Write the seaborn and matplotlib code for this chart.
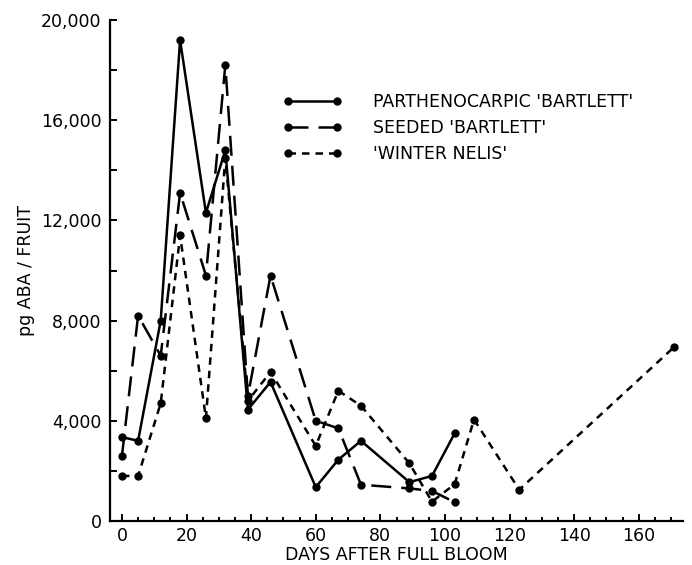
import matplotlib
matplotlib.use("Agg")
import matplotlib.pyplot as plt
from matplotlib.ticker import MultipleLocator, FuncFormatter
from matplotlib.lines import Line2D
import seaborn as sns
import pandas as pd

# ---- data ----
parth_days = [0, 5, 12, 18, 26, 32, 39, 46, 60, 67, 74, 89, 96, 103]
parth_aba = [3350, 3200, 8000, 19200, 12300, 14800, 4450, 5550, 1350, 2450, 3200, 1550, 1800, 3500]

seeded_days = [0, 5, 12, 18, 26, 32, 39, 46, 60, 67, 74, 89, 96, 103]
seeded_aba = [2600, 8200, 6600, 13100, 9800, 18200, 5000, 9800, 4000, 3700, 1450, 1300, 1200, 750]

winter_days = [0, 5, 12, 18, 26, 32, 39, 46, 60, 67, 74, 89, 96, 103, 109, 123, 171]
winter_aba = [1800, 1800, 4700, 11400, 4100, 14500, 4800, 5950, 3000, 5200, 4600, 2300, 770, 1470, 4050, 1250, 6950]

series_names = ["PARTHENOCARPIC 'BARTLETT'", "SEEDED 'BARTLETT'", "'WINTER NELIS'"]
x_label = "DAYS AFTER FULL BLOOM"
y_label = "pg ABA / FRUIT"

sns.set_style("ticks")
plt.rcParams["font.family"] = ["DejaVu Sans"]
plt.rcParams["text.color"] = "black"
plt.rcParams["axes.labelcolor"] = "black"
plt.rcParams["xtick.color"] = "black"
plt.rcParams["ytick.color"] = "black"
plt.rcParams["axes.edgecolor"] = "black"

fig = plt.figure(figsize=(6.92, 5.65), dpi=100)
ax = fig.add_axes([110 / 692, 44 / 565, (683 - 110) / 692, (521 - 20) / 565])

lw = 1.8
ms = 6
styles = ["-", (0, (8, 4)), (0, (3, 2.4))]
all_days = [parth_days, seeded_days, winter_days]
all_vals = [parth_aba, seeded_aba, winter_aba]

for name, d, v, ls in zip(series_names, all_days, all_vals, styles):
    df = pd.DataFrame({"day": d, "aba": v})
    sns.lineplot(data=df, x="day", y="aba", ax=ax, color="black", linewidth=lw,
                 linestyle=ls, marker="o", markersize=ms, markeredgewidth=0,
                 estimator=None, sort=False)

ax.set_xlim(-3.7, 173.7)
ax.set_ylim(0, 20000)
sns.despine(ax=ax)
ax.spines["left"].set_linewidth(1.6)
ax.spines["bottom"].set_linewidth(1.6)

ax.xaxis.set_major_locator(MultipleLocator(20))
ax.xaxis.set_minor_locator(MultipleLocator(5))
ax.yaxis.set_major_locator(MultipleLocator(4000))
ax.yaxis.set_minor_locator(MultipleLocator(2000))
ax.yaxis.set_major_formatter(FuncFormatter(lambda v, p: f"{int(v):,}"))
ax.xaxis.set_major_formatter(FuncFormatter(lambda v, p: f"{int(v)}"))

ax.tick_params(axis="both", which="both", direction="in", width=1.4, colors="black")
ax.tick_params(axis="y", which="major", length=5, labelsize=12.5, pad=6)
ax.tick_params(axis="y", which="minor", length=5)
ax.tick_params(axis="x", which="major", length=5, labelsize=12.5, pad=4)
ax.tick_params(axis="x", which="minor", length=3)

ax.set_xlabel(x_label, fontsize=12.5, labelpad=1)
ax.set_ylabel(y_label, fontsize=12.5, labelpad=4)

handles = [Line2D([0], [0], color="black", lw=lw, linestyle=ls, marker="o",
                  markersize=ms, markeredgewidth=0) for ls in styles]
fig.legend(handles, series_names, loc="upper left",
           bbox_to_anchor=(283 / 692, 1 - 93 / 565), frameon=False,
           fontsize=12.5, numpoints=2, handlelength=3.4, handletextpad=1.8,
           labelspacing=0.45, borderpad=0, borderaxespad=0)

fig.savefig("out.png", dpi=100)
